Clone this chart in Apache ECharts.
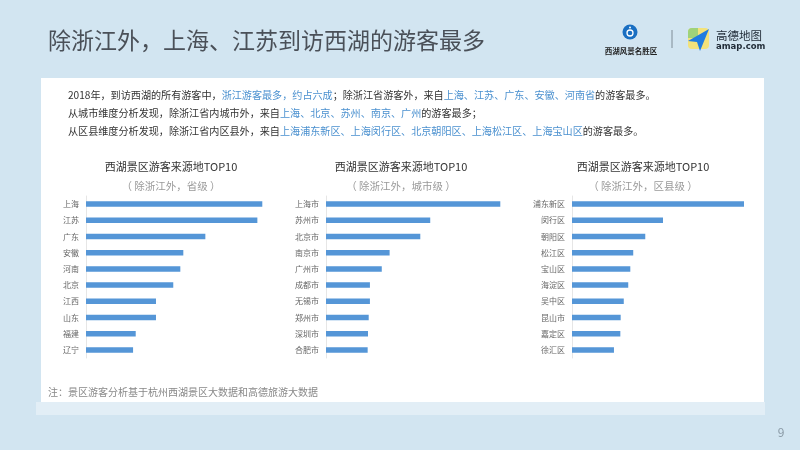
<!DOCTYPE html>
<html>
<head>
<meta charset="utf-8">
<script src="https://cdn.jsdelivr.net/npm/echarts@6/dist/echarts.min.js"></script>
<style>html,body{margin:0;padding:0;background:#d2e5f1;}#c{width:800px;height:450px;}</style>
</head>
<body>
<div id="c"></div>
<script>
// Data (relative values, largest = 100)
const provinceCats = ['上海','江苏','广东','安徽','河南','北京','江西','山东','福建','辽宁'];
const provinceVals = [100, 97.2, 67.7, 55.2, 53.5, 49.5, 39.7, 39.7, 28.2, 26.7];
const cityCats = ['上海市','苏州市','北京市','南京市','广州市','成都市','无锡市','郑州市','深圳市','合肥市'];
const cityVals = [100, 59.8, 54.1, 36.5, 32.0, 25.2, 25.2, 24.5, 24.1, 23.9];
const districtCats = ['浦东新区','闵行区','朝阳区','松江区','宝山区','海淀区','吴中区','昆山市','嘉定区','徐汇区'];
const districtVals = [100, 52.9, 42.6, 35.6, 33.9, 32.7, 30.1, 28.3, 28.1, 24.4];
const chartTitle = '西湖景区游客来源地TOP10';
const chartSubs = ['（ 除浙江外，省级 ）', '（ 除浙江外，城市级 ）', '（ 除浙江外，区县级 ）'];

const FF = '"Noto Sans CJK SC", "Noto Sans", sans-serif';
const BLUE = '#4a90cf';
const BAR = '#5596d7';

const chart = echarts.init(document.getElementById('c'), null, {renderer: 'canvas'});

const grids = [
  {left: 86, top: 196, width: 176.3, height: 162},
  {left: 326, top: 196, width: 174.3, height: 162},
  {left: 572, top: 196, width: 172, height: 162}
];
const cats = [provinceCats, cityCats, districtCats];
const vals = [provinceVals, cityVals, districtVals];
const titleCenters = [171, 401, 643];

const xAxes = grids.map((g, i) => ({
  gridIndex: i, type: 'value', min: 0, max: 100, show: false
}));
const yAxes = grids.map((g, i) => ({
  gridIndex: i, type: 'category', inverse: true, data: cats[i],
  axisLine: {show: true, lineStyle: {color: '#e6e6e6', width: 1}},
  axisTick: {show: false},
  axisLabel: {color: '#666', fontSize: 8, fontFamily: FF, margin: 7}
}));
const series = grids.map((g, i) => ({
  type: 'bar', xAxisIndex: i, yAxisIndex: i, data: vals[i],
  barWidth: 5.5, itemStyle: {color: BAR}, silent: true
}));

const txt = (x, y, text, opts) => Object.assign({
  type: 'text', x: x, y: y,
  style: Object.assign({text: text, fill: '#333', fontSize: 10.1, fontFamily: FF, textVerticalAlign: 'middle'}, opts || {})
});

const rich = {b: {fill: BLUE, fontSize: 10.1, fontFamily: FF}, n: {fill: '#333', fontSize: 10.1, fontFamily: FF}};

const graphics = [
  // white panel
  {type: 'rect', shape: {x: 36, y: 402, width: 729, height: 13}, style: {fill: '#e2eef6'}, z: -11},
  {type: 'rect', shape: {x: 41, y: 78, width: 723, height: 324}, style: {fill: '#ffffff'}, z: -10},
  // page title
  txt(48, 40, '除浙江外，上海、江苏到访西湖的游客最多', {fontSize: 23, fill: '#4a5058'}),
  // summary text
  txt(68, 95, '{n|2018年，到访西湖的所有游客中，}{b|浙江游客最多，约占六成}{n|；除浙江省游客外，来自}{b|上海、江苏、广东、安徽、河南省}{n|的游客最多。}', {rich: rich}),
  txt(68, 113, '{n|从城市维度分析发现，除浙江省内城市外，来自}{b|上海、北京、苏州、南京、广州}{n|的游客最多；}', {rich: rich}),
  txt(68, 131, '{n|从区县维度分析发现，除浙江省内区县外，来自}{b|上海浦东新区、上海闵行区、北京朝阳区、上海松江区、上海宝山区}{n|的游客最多。}', {rich: rich}),
  // footnote
  txt(48, 392, '注：景区游客分析基于杭州西湖景区大数据和高德旅游大数据', {fontSize: 10, fill: '#888'}),
  // page number
  txt(781, 432, '9', {fontSize: 12, fill: '#8a9aa6', textAlign: 'center'}),
  // logos
  {type: 'circle', shape: {cx: 630, cy: 32, r: 7.5}, style: {fill: '#1a6fc2'}},
  {type: 'circle', shape: {cx: 630, cy: 33, r: 3}, style: {fill: 'none', stroke: '#ffffff', lineWidth: 1.3}},
  {type: 'circle', shape: {cx: 630, cy: 27.5, r: 1}, style: {fill: '#ffffff'}},
  txt(631, 51, '西湖风景名胜区', {fontSize: 7.5, fontWeight: 'bold', fill: '#222', textAlign: 'center'}),
  {type: 'line', shape: {x1: 672, y1: 30, x2: 672, y2: 48}, style: {stroke: '#7f8c96', lineWidth: 1}},
  {type: 'rect', shape: {x: 688, y: 28, width: 21, height: 21, r: 4}, style: {fill: '#f3e27a'}},
  {type: 'rect', shape: {x: 688, y: 28, width: 10, height: 10, r: [4, 0, 0, 0]}, style: {fill: '#9fd27a'}},
  {type: 'polygon', shape: {points: [[709, 29], [688, 41], [697, 42], [700, 51]]}, style: {fill: '#1f7ce0'}},
  txt(716, 36, '高德地图', {fontSize: 11.5, fill: '#1f2a36'}),
  txt(716, 46.5, 'amap.com', {fontSize: 8.5, fontWeight: 'bold', fill: '#1f2a36', fontFamily: '"DejaVu Sans", sans-serif'})
];
titleCenters.forEach((cx, i) => {
  graphics.push(txt(cx, 167, chartTitle, {fontSize: 11, fill: '#333', textAlign: 'center'}));
  graphics.push(txt(cx, 186, chartSubs[i], {fontSize: 10.5, fill: '#999', textAlign: 'center'}));
});

chart.setOption({
  backgroundColor: '#d2e5f1',
  animation: false,
  grid: grids,
  xAxis: xAxes,
  yAxis: yAxes,
  series: series,
  graphic: {elements: graphics}
});
</script>
</body>
</html>
